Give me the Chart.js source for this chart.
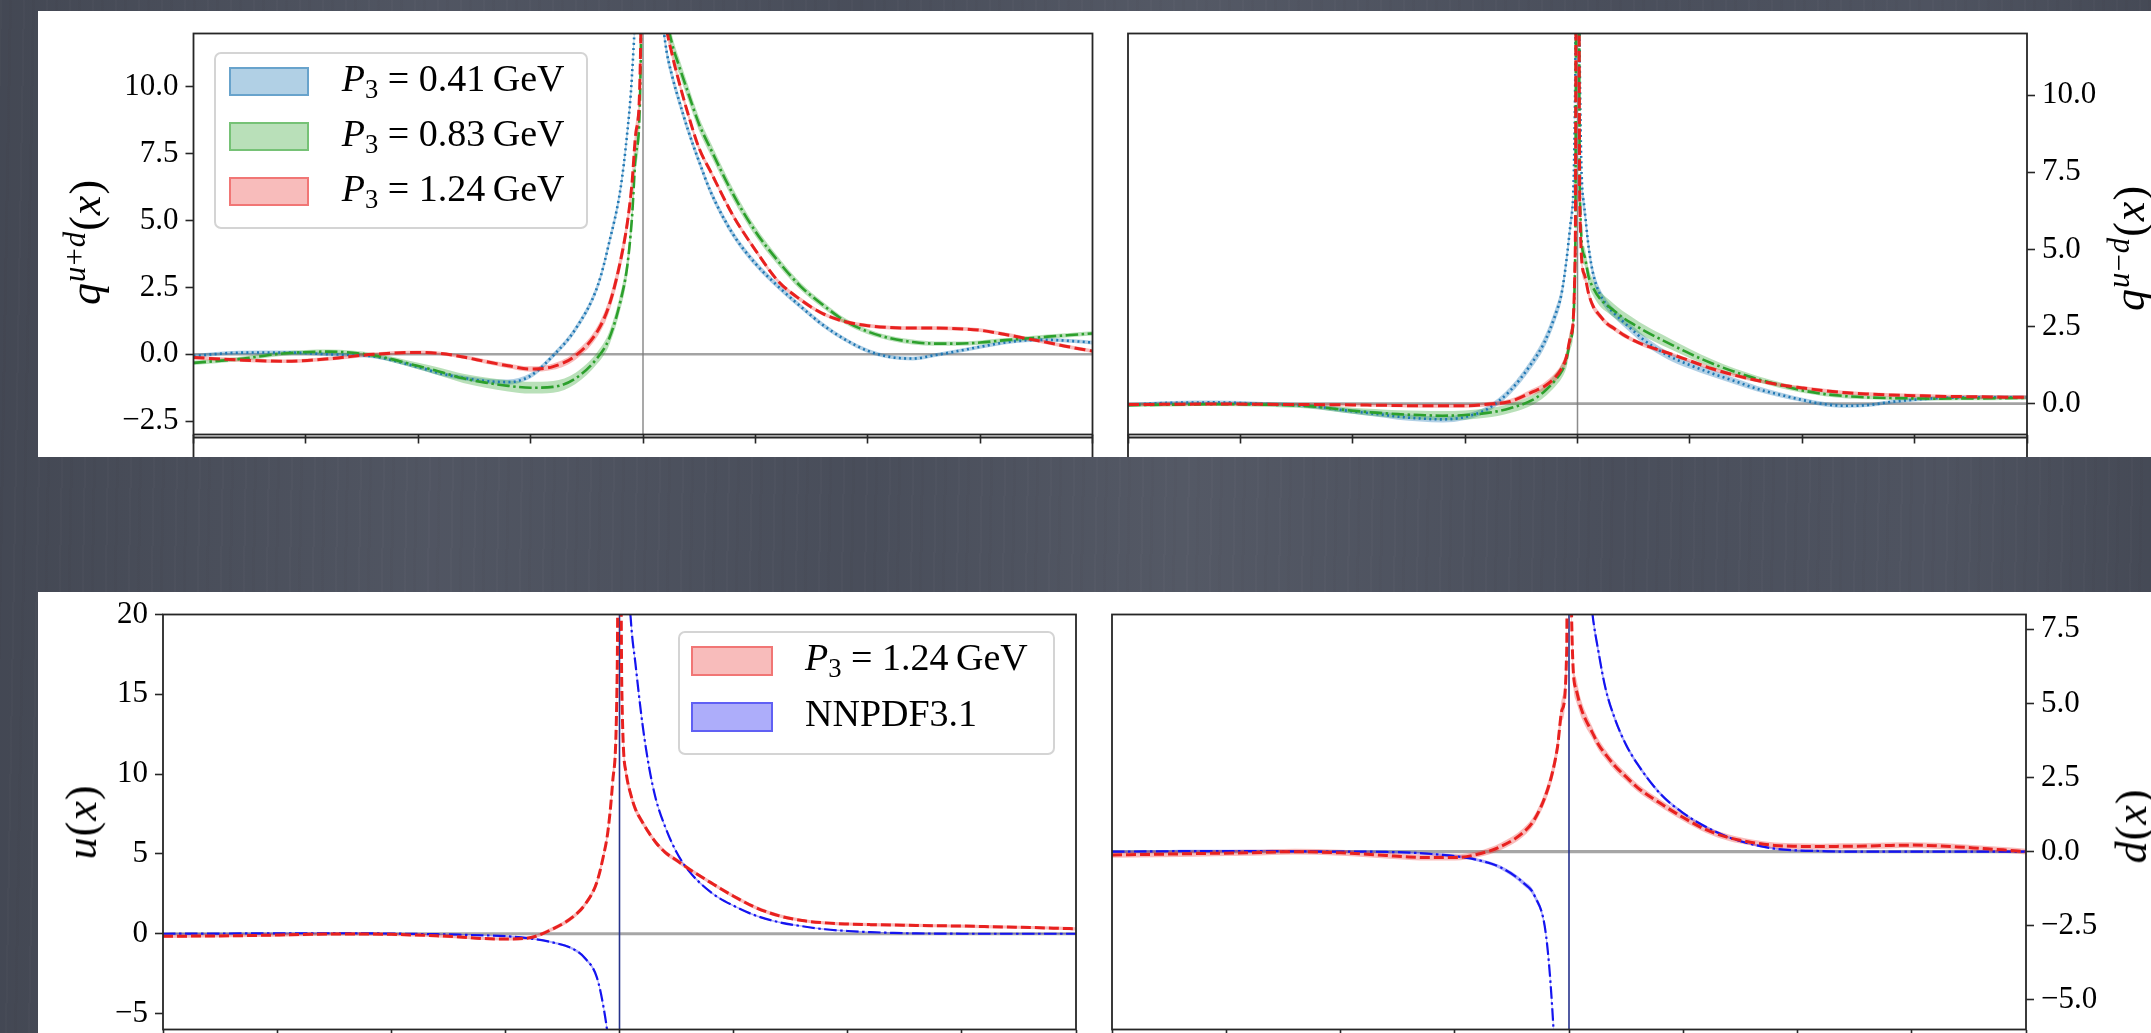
<!DOCTYPE html>
<html>
<head>
<meta charset="utf-8">
<script src="https://cdn.jsdelivr.net/npm/chart.js@4.4.1/dist/chart.umd.min.js"></script>
<style>
  html, body { margin: 0; padding: 0; }
  body {
    width: 2151px; height: 1033px; overflow: hidden; position: relative;
    background-color: #4b505d;
    background-image:
      linear-gradient(90deg, rgba(0,0,0,.10) 0%, rgba(255,255,255,.03) 20%, rgba(0,0,0,.03) 40%, rgba(255,255,255,.05) 55%, rgba(0,0,0,.02) 75%, rgba(255,255,255,.02) 90%, rgba(0,0,0,.08) 100%),
      repeating-linear-gradient(91deg, rgba(255,255,255,.018) 0 2px, transparent 2px 9px, rgba(0,0,0,.02) 9px 12px, transparent 12px 23px);
    font-family: "Liberation Serif", "Times New Roman", serif;
    color: #000;
  }
  .strip { position: absolute; background: #fff; }
  canvas { position: absolute; }
  .ylab {
    position: absolute; transform: translate(-50%, -50%) rotate(-90deg);
    white-space: nowrap; font-size: 44px; letter-spacing: 1px; line-height: 1;
  }
  .ylab sup { font-size: 0.7em; vertical-align: 0.5em; line-height: 0; }
  .legend {
    position: absolute; box-sizing: border-box;
    background: rgba(255,255,255,0.85); border: 2px solid #d4d4d4; border-radius: 7px;
  }
  .patch { position: absolute; box-sizing: border-box; border: 2px solid; }
  .ltext { position: absolute; font-size: 38px; line-height: 38px; white-space: nowrap; }
  .ltext sub { font-size: 0.7em; vertical-align: -0.28em; line-height: 0; }
</style>
</head>
<body>
<div class="strip" style="left:38px;top:11px;width:2113px;height:446px"></div>
<div class="strip" style="left:38px;top:592px;width:2113px;height:441px"></div>

<canvas id="sum" width="1072" height="446" style="left:38px;top:11px"></canvas>
<canvas id="diff" width="1041" height="446" style="left:1110px;top:11px"></canvas>
<canvas id="up" width="1056" height="460" style="left:38px;top:592px"></canvas>
<canvas id="down" width="1057" height="460" style="left:1094px;top:592px"></canvas>

<div class="ylab" style="left:86px;top:242px"><i>q</i><sup><i>u</i>+<i>d</i></sup>(<i>x</i>)</div>
<div class="ylab" style="left:2130px;top:248px"><i>q</i><sup><i>u</i>−<i>d</i></sup>(<i>x</i>)</div>
<div class="ylab" style="left:82px;top:822px"><i>u</i>(<i>x</i>)</div>
<div class="ylab" style="left:2132px;top:826px"><i>d</i>(<i>x</i>)</div>

<div id="legSum" class="legend" style="left:214px;top:52px;width:374px;height:177px"></div>
<div id="legUp" class="legend" style="left:678px;top:631px;width:377px;height:124px"></div>

<script>
// momentum-space grid shared by every panel (denser around the x = 0 singularity)
const xGrid = [-2.0, -1.8, -1.6, -1.4, -1.2, -1.0, -0.9, -0.8, -0.7, -0.6, -0.5, -0.4, -0.3, -0.2,
  -0.15, -0.1, -0.07, -0.05, -0.03, -0.01, 0, 0.01, 0.03, 0.05, 0.07, 0.1, 0.13, 0.16, 0.2, 0.25, 0.3,
  0.4, 0.5, 0.6, 0.7, 0.8, 0.9, 1.0, 1.1, 1.2, 1.3, 1.4, 1.5, 1.6, 1.7, 1.8, 1.9, 2.0];
const xTicks = [-2, -1.5, -1, -0.5, 0, 0.5, 1, 1.5, 2];

const momenta = ["0.41", "0.83", "1.24"];

// q^{u+d}(x) for the three boosts, with band half-widths
const sumP041 = [-0.06, 0.06, 0.07, 0.0, -0.08, -0.48, -0.72, -0.88, -1.0, -1.04, -0.8, -0.05, 0.95, 2.6,
  4.2, 6.2, 8.3, 10.3, 14, 22, 40, 32, 22, 17, 14, 11.6, 10.4, 9.5, 8.4, 7.2, 6.1,
  4.5, 3.4, 2.55, 1.8, 1.1, 0.55, 0.13, -0.1, -0.16, -0.03, 0.12, 0.28, 0.43, 0.52, 0.54, 0.5, 0.44];
const sumP083 = [-0.32, -0.18, 0.03, 0.1, -0.04, -0.44, -0.66, -0.9, -1.06, -1.18, -1.25, -1.22, -0.9, -0.1,
  0.6, 2.0, 3.3, 5.0, 7.6, 11.0, 40, 35, 26, 20, 16, 12.9, 11.6, 10.8, 9.8, 8.6, 7.7,
  6.0, 4.6, 3.5, 2.55, 1.85, 1.24, 0.85, 0.6, 0.46, 0.4, 0.4, 0.44, 0.52, 0.59, 0.66, 0.72, 0.78];
const sumP124 = [-0.12, -0.21, -0.26, -0.17, 0.0, 0.07, 0.03, -0.1, -0.27, -0.43, -0.55, -0.46, -0.05, 0.9,
  1.85, 3.5, 4.9, 6.3, 8.4, 11.8, 40, 35, 25, 19, 15.5, 12.5, 11.2, 10.2, 9.0, 7.7, 6.85,
  5.2, 3.9, 2.75, 2.05, 1.52, 1.22, 1.07, 1.0, 0.98, 0.98, 0.96, 0.9, 0.76, 0.6, 0.44, 0.27, 0.12];
const sumErr041 = [0.07, 0.07, 0.07, 0.07, 0.07, 0.08, 0.08, 0.09, 0.09, 0.1, 0.1, 0.1, 0.12, 0.15,
  0.18, 0.22, 0.26, 0.3, 0.35, 0.4, 0.5, 0.45, 0.4, 0.35, 0.3, 0.25, 0.22, 0.2, 0.18, 0.16, 0.15,
  0.13, 0.12, 0.11, 0.1, 0.09, 0.08, 0.08, 0.07, 0.07, 0.07, 0.07, 0.07, 0.07, 0.07, 0.07, 0.07, 0.07];
const sumErr083 = [0.08, 0.08, 0.08, 0.08, 0.09, 0.12, 0.15, 0.17, 0.19, 0.21, 0.22, 0.22, 0.21, 0.22,
  0.25, 0.3, 0.35, 0.4, 0.5, 0.6, 0.8, 0.6, 0.5, 0.45, 0.4, 0.35, 0.32, 0.3, 0.28, 0.26, 0.24,
  0.21, 0.18, 0.16, 0.14, 0.12, 0.11, 0.1, 0.09, 0.09, 0.08, 0.08, 0.08, 0.08, 0.08, 0.08, 0.08, 0.08];
const sumErr124 = [0.07, 0.07, 0.07, 0.07, 0.07, 0.07, 0.07, 0.07, 0.08, 0.09, 0.1, 0.12, 0.15, 0.2,
  0.25, 0.3, 0.32, 0.35, 0.4, 0.45, 0.5, 0.4, 0.35, 0.3, 0.25, 0.2, 0.18, 0.16, 0.14, 0.12, 0.11,
  0.1, 0.09, 0.08, 0.08, 0.07, 0.07, 0.07, 0.07, 0.07, 0.07, 0.07, 0.07, 0.07, 0.07, 0.07, 0.07, 0.07];

// q^{u-d}(x)
const diffP041 = [-0.04, 0.03, 0.04, -0.01, -0.07, -0.25, -0.33, -0.42, -0.48, -0.51, -0.43, -0.17, 0.42, 1.35,
  1.95, 2.85, 3.6, 4.6, 5.9, 10.5, 40, 11.0, 6.4, 5.05, 4.2, 3.55, 3.2, 2.95, 2.68, 2.35, 2.04,
  1.57, 1.25, 0.98, 0.73, 0.48, 0.29, 0.12, -0.02, -0.07, -0.04, 0.06, 0.13, 0.18, 0.2, 0.21, 0.21, 0.21];
const diffP083 = [-0.05, -0.03, -0.02, -0.03, -0.08, -0.23, -0.29, -0.34, -0.37, -0.39, -0.37, -0.3, -0.15, 0.12,
  0.38, 0.75, 1.05, 1.4, 2.1, 4.8, 40, 7.0, 4.8, 4.1, 3.75, 3.4, 3.2, 3.03, 2.8, 2.57, 2.35,
  1.98, 1.62, 1.3, 1.03, 0.8, 0.6, 0.43, 0.31, 0.24, 0.2, 0.18, 0.17, 0.16, 0.17, 0.17, 0.18, 0.19];
const diffP124 = [-0.03, -0.02, -0.01, -0.02, -0.03, -0.04, -0.05, -0.06, -0.07, -0.07, -0.07, -0.02, 0.07, 0.38,
  0.55, 0.85, 1.15, 1.5, 2.2, 5.0, 40, 6.5, 4.2, 3.55, 3.15, 2.85, 2.6, 2.45, 2.25, 2.05, 1.89,
  1.65, 1.39, 1.13, 0.92, 0.75, 0.61, 0.51, 0.42, 0.35, 0.31, 0.28, 0.26, 0.24, 0.23, 0.22, 0.21, 0.21];
const diffErr041 = [0.06, 0.06, 0.06, 0.06, 0.07, 0.08, 0.09, 0.1, 0.1, 0.1, 0.1, 0.1, 0.12, 0.15,
  0.18, 0.2, 0.22, 0.25, 0.3, 0.4, 0.5, 0.4, 0.3, 0.25, 0.2, 0.18, 0.16, 0.15, 0.15, 0.14, 0.14,
  0.13, 0.12, 0.11, 0.1, 0.09, 0.08, 0.07, 0.07, 0.06, 0.06, 0.06, 0.06, 0.06, 0.06, 0.06, 0.06, 0.06];
const diffErr083 = [0.06, 0.06, 0.06, 0.07, 0.08, 0.1, 0.12, 0.13, 0.14, 0.15, 0.15, 0.15, 0.15, 0.16,
  0.18, 0.2, 0.22, 0.25, 0.3, 0.4, 0.5, 0.4, 0.3, 0.27, 0.25, 0.24, 0.23, 0.22, 0.21, 0.2, 0.19,
  0.17, 0.15, 0.13, 0.11, 0.1, 0.09, 0.08, 0.07, 0.07, 0.06, 0.06, 0.06, 0.06, 0.06, 0.06, 0.06, 0.06];
const diffErr124 = [0.05, 0.05, 0.05, 0.05, 0.05, 0.05, 0.05, 0.06, 0.06, 0.06, 0.06, 0.07, 0.08, 0.1,
  0.12, 0.14, 0.16, 0.2, 0.25, 0.3, 0.4, 0.3, 0.2, 0.15, 0.12, 0.1, 0.09, 0.08, 0.08, 0.07, 0.07,
  0.06, 0.06, 0.06, 0.06, 0.06, 0.06, 0.06, 0.06, 0.06, 0.06, 0.06, 0.06, 0.06, 0.06, 0.06, 0.06, 0.06];

// u(x) and d(x): lattice at P3 = 1.24 GeV against NNPDF3.1
const uLattice = [-0.16, -0.14, -0.11, -0.05, -0.01, -0.04, -0.08, -0.13, -0.2, -0.3, -0.33, -0.27, 0.25, 1.1,
  1.85, 3.2, 4.9, 6.5, 9.5, 16.5, 40, 15.5, 10.0, 8.7, 7.8, 7.0, 6.3, 5.7, 5.1, 4.6, 4.1,
  3.2, 2.35, 1.62, 1.12, 0.83, 0.68, 0.61, 0.57, 0.55, 0.52, 0.5, 0.48, 0.45, 0.42, 0.39, 0.35, 0.31];
const uNNPDF = [0.0, 0.01, 0.02, 0.03, 0.03, 0.01, -0.01, -0.03, -0.06, -0.1, -0.15, -0.28, -0.52, -0.98,
  -1.55, -2.7, -4.6, -6.6, -10, -25, null, 60, 26, 19.6, 16.9, 13.2, 10.4, 8.4, 6.7, 5.1, 4.0,
  2.6, 1.75, 1.12, 0.72, 0.47, 0.28, 0.17, 0.1, 0.05, 0.02, 0.01, 0.0, 0.0, 0.0, 0.0, 0.0, 0.0];
const dLattice = [-0.11, -0.09, -0.06, -0.04, 0.0, -0.04, -0.08, -0.13, -0.18, -0.2, -0.2, -0.09, 0.17, 0.65,
  1.1, 1.95, 2.75, 3.55, 4.8, 6.8, 40, 8.5, 5.5, 4.9, 4.5, 4.05, 3.6, 3.28, 2.9, 2.52, 2.16,
  1.63, 1.15, 0.74, 0.47, 0.31, 0.21, 0.18, 0.17, 0.18, 0.19, 0.21, 0.22, 0.2, 0.16, 0.11, 0.06, 0.0];
const dNNPDF = [0.0, 0.01, 0.02, 0.02, 0.01, 0.0, 0.0, -0.01, -0.03, -0.08, -0.15, -0.28, -0.53, -1.05,
  -1.5, -2.85, -5.7, -9, -15, -40, null, 60, 25, 15, 11, 8.2, 6.7, 5.5, 4.5, 3.6, 2.95,
  1.95, 1.3, 0.83, 0.48, 0.25, 0.1, 0.04, 0.02, 0.0, 0.0, 0.0, 0.0, 0.0, 0.0, 0.0, 0.0, 0.0];
const latticeErr = [0.1, 0.1, 0.1, 0.1, 0.1, 0.1, 0.1, 0.1, 0.1, 0.1, 0.1, 0.1, 0.12, 0.14,
  0.15, 0.2, 0.25, 0.3, 0.4, 0.6, 1.0, 0.6, 0.4, 0.3, 0.25, 0.2, 0.18, 0.16, 0.15, 0.14, 0.13,
  0.12, 0.12, 0.11, 0.11, 0.1, 0.1, 0.1, 0.1, 0.1, 0.1, 0.1, 0.1, 0.1, 0.1, 0.1, 0.1, 0.1];
const nnpdfErr = [0.04, 0.04, 0.04, 0.04, 0.04, 0.04, 0.04, 0.04, 0.04, 0.04, 0.05, 0.05, 0.06, 0.08,
  0.1, 0.12, 0.15, 0.2, 0.3, 0.5, null, 0.8, 0.4, 0.3, 0.25, 0.2, 0.15, 0.12, 0.1, 0.08, 0.07,
  0.06, 0.05, 0.05, 0.04, 0.04, 0.04, 0.04, 0.04, 0.04, 0.04, 0.04, 0.04, 0.04, 0.04, 0.04, 0.04, 0.04];

const sumTicks = [-2.5, 0, 2.5, 5, 7.5, 10];
const diffTicks = [0, 2.5, 5, 7.5, 10];
const uTicks = [-5, 0, 5, 10, 15, 20];
const dTicks = [-5, -2.5, 0, 2.5, 5, 7.5];

const TAB_BLUE = "#1f77b4", TAB_GREEN = "#2ca02c", RED = "#e8211f", BLUE = "#1414f0";

function rgba(hex, a) {
  const n = parseInt(hex.slice(1), 16);
  return `rgba(${n >> 16}, ${(n >> 8) & 255}, ${n & 255}, ${a})`;
}

function points(ys, err, sign) {
  return xGrid.map((x, i) => {
    const y = ys[i];
    if (y == null) return { x, y: null };
    return { x, y: err ? y + sign * err[i] : y };
  });
}

// one curve = upper band edge, lower band edge (filled to the upper), then the line itself
function curve(ys, err, color, alpha, dash, width) {
  return [
    { data: points(ys, err, 1), borderWidth: 0, borderColor: "transparent", fill: false, order: 1, clip: 0 },
    { data: points(ys, err, -1), borderWidth: 0, borderColor: "transparent", fill: "-1",
      backgroundColor: rgba(color, alpha), order: 1, clip: 0 },
    { data: points(ys), borderColor: color, borderWidth: width, borderDash: dash, fill: false, order: 0, clip: 0 }
  ];
}

const frame = {
  id: "frame",
  beforeDatasetsDraw(chart, args, opts) {
    const { ctx, chartArea: a, scales: { x, y } } = chart;
    ctx.save();
    ctx.beginPath();
    ctx.rect(a.left, a.top, a.width, a.height);
    ctx.clip();
    const y0 = y.getPixelForValue(0);
    ctx.strokeStyle = opts.hColor;
    ctx.lineWidth = opts.hWidth;
    ctx.beginPath(); ctx.moveTo(a.left, y0); ctx.lineTo(a.right, y0); ctx.stroke();
    const x0 = x.getPixelForValue(0);
    ctx.strokeStyle = opts.vColor;
    ctx.lineWidth = opts.vWidth;
    ctx.beginPath(); ctx.moveTo(x0, a.top); ctx.lineTo(x0, a.bottom); ctx.stroke();
    ctx.restore();
  },
  afterDraw(chart, args, opts) {
    const { ctx, chartArea: a } = chart;
    ctx.save();
    ctx.strokeStyle = "#262626";
    ctx.lineWidth = 1.8;
    ctx.strokeRect(a.left, a.top, a.width, a.height);
    if (opts.stub) {
      // top edge of the next row of panels, just below this one
      ctx.beginPath();
      ctx.moveTo(a.left, a.bottom + 3); ctx.lineTo(a.right, a.bottom + 3);
      ctx.moveTo(a.left, a.bottom); ctx.lineTo(a.left, chart.height);
      ctx.moveTo(a.right, a.bottom); ctx.lineTo(a.right, chart.height);
      ctx.stroke();
    }
    ctx.restore();
  }
};

const minus = s => s.replace("-", "\u2212");
const oneDecimal = v => minus(v.toFixed(1));
const integer = v => minus(String(v));

function panel(id, spec) {
  return new Chart(document.getElementById(id), {
    type: "line",
    data: { datasets: spec.datasets },
    options: {
      responsive: false,
      animation: false,
      events: [],
      layout: { padding: spec.padding },
      elements: { point: { radius: 0 }, line: { cubicInterpolationMode: "monotone" } },
      plugins: { legend: { display: false }, tooltip: { enabled: false }, frame: spec.frame },
      scales: {
        x: {
          type: "linear", min: -2, max: 2, position: "bottom",
          afterBuildTicks: s => { s.ticks = xTicks.map(v => ({ value: v })); },
          afterFit: s => { s.height = spec.xHeight; },
          ticks: { display: false },
          grid: { drawOnChartArea: false, drawTicks: true, tickLength: 9, tickWidth: 1.6, tickColor: "#262626" },
          border: { display: false }
        },
        y: {
          type: "linear", min: spec.yMin, max: spec.yMax, position: spec.side,
          afterBuildTicks: s => { s.ticks = spec.yTicks.map(v => ({ value: v })); },
          afterFit: s => { s.width = spec.yWidth; },
          ticks: { padding: 7, color: "#000", callback: spec.fmt,
                   font: { family: "'Liberation Serif', 'Times New Roman', serif", size: 31, lineHeight: 1 } },
          grid: { drawOnChartArea: false, drawTicks: true, tickLength: 8, tickWidth: 1.6, tickColor: "#262626" },
          border: { display: false }
        }
      }
    },
    plugins: [frame]
  });
}

const dotted = [2, 3.3], dashed = [11, 4.5], dashDot = [12.5, 3.5, 2.5, 3.5];
const topFrame = { hColor: "rgba(140,140,140,0.8)", hWidth: 2.6, vColor: "rgba(120,120,120,0.85)", vWidth: 1.5, stub: true };
const lowFrame = { hColor: "rgba(150,150,150,0.85)", hWidth: 3.2, vColor: "#26338c", vWidth: 1.6, stub: false };

panel("sum", {
  datasets: [
    ...curve(sumP124, sumErr124, RED, 0.3, dashed, 3),
    ...curve(sumP083, sumErr083, TAB_GREEN, 0.33, dashDot, 2.6),
    ...curve(sumP041, sumErr041, TAB_BLUE, 0.35, dotted, 2.6)
  ],
  padding: { top: 21, right: 17.5, bottom: 0, left: 0 },
  xHeight: 9.5, yWidth: 155.5, side: "left",
  yMin: -3, yMax: 12, yTicks: sumTicks, fmt: oneDecimal, frame: topFrame
});

panel("diff", {
  datasets: [
    ...curve(diffP124, diffErr124, RED, 0.3, dashed, 3),
    ...curve(diffP083, diffErr083, TAB_GREEN, 0.33, dashDot, 2.6),
    ...curve(diffP041, diffErr041, TAB_BLUE, 0.35, dotted, 2.6)
  ],
  padding: { top: 21, right: 0, bottom: 0, left: 18 },
  xHeight: 9.5, yWidth: 124, side: "right",
  yMin: -1, yMax: 12, yTicks: diffTicks, fmt: oneDecimal, frame: topFrame
});

panel("up", {
  datasets: [
    ...curve(uLattice, latticeErr, RED, 0.3, [10, 4], 3),
    ...curve(uNNPDF, nnpdfErr, BLUE, 0.35, dashDot, 2.2)
  ],
  padding: { top: 18, right: 18, bottom: 0, left: 0 },
  xHeight: 20, yWidth: 125, side: "left",
  yMin: -6, yMax: 20, yTicks: uTicks, fmt: integer, frame: lowFrame
});

panel("down", {
  datasets: [
    ...curve(dLattice, latticeErr, RED, 0.3, [10, 4], 3),
    ...curve(dNNPDF, nnpdfErr, BLUE, 0.35, dashDot, 2.2)
  ],
  padding: { top: 18, right: 0, bottom: 0, left: 18 },
  xHeight: 20, yWidth: 125, side: "right",
  yMin: -6, yMax: 8, yTicks: dTicks, fmt: oneDecimal, frame: lowFrame
});

// legends: patch + label per row, rows given as centre offsets inside the frame
function legend(id, rows, patchLeft, patchW, patchH, textLeft) {
  const box = document.getElementById(id);
  rows.forEach(r => {
    const p = document.createElement("div");
    p.className = "patch";
    Object.assign(p.style, {
      left: patchLeft + "px", top: (r.cy - patchH / 2) + "px", width: patchW + "px", height: patchH + "px",
      background: rgba(r.color, r.alpha), borderColor: rgba(r.color, r.alpha + 0.15)
    });
    const t = document.createElement("div");
    t.className = "ltext";
    t.style.left = textLeft + "px";
    t.style.top = (r.cy - 22.8) + "px";
    t.innerHTML = r.html;
    box.append(p, t);
  });
}

const p3 = m => `<i>P</i><sub>3</sub> = ${m}&#8201;GeV`;

legend("legSum", [
  { cy: 27.7, color: TAB_BLUE, alpha: 0.35, html: p3(momenta[0]) },
  { cy: 82.7, color: TAB_GREEN, alpha: 0.33, html: p3(momenta[1]) },
  { cy: 137.7, color: RED, alpha: 0.3, html: p3(momenta[2]) }
], 13, 80, 29, 125.7);

legend("legUp", [
  { cy: 28, color: RED, alpha: 0.3, html: p3(momenta[2]) },
  { cy: 83.7, color: BLUE, alpha: 0.35, html: "NNPDF3.1" }
], 11, 82, 30, 125);
</script>
</body>
</html>
